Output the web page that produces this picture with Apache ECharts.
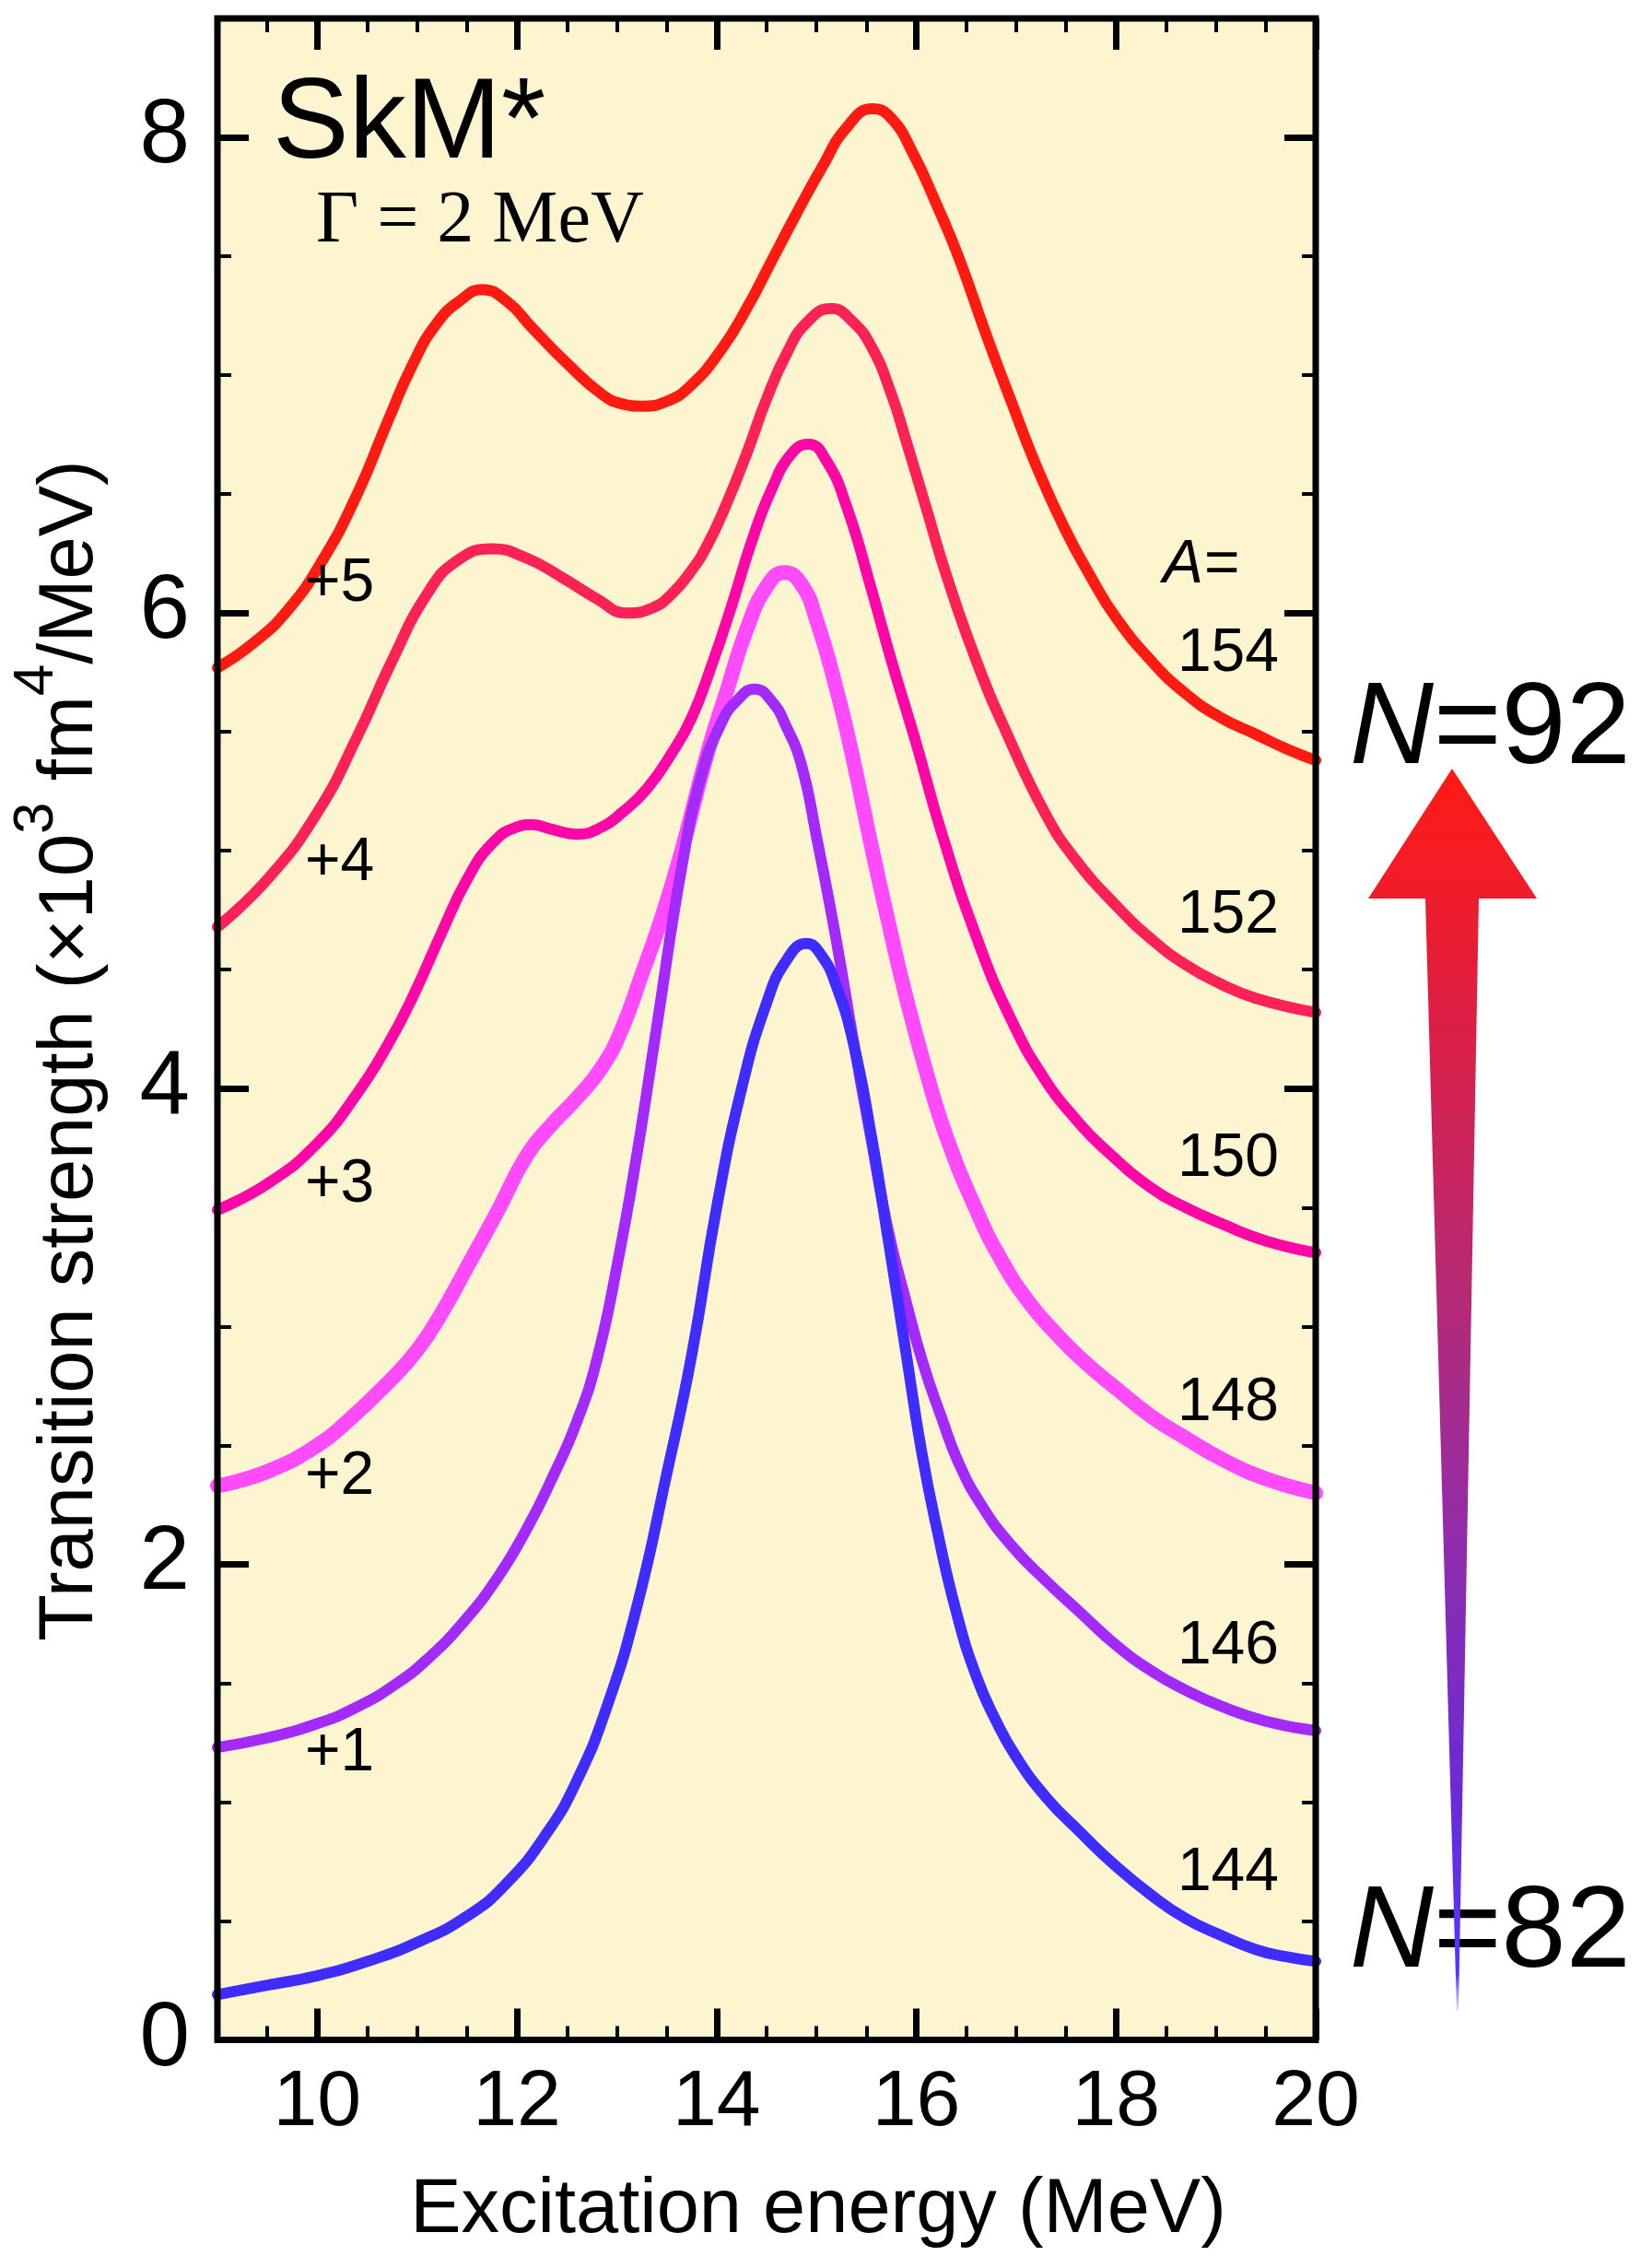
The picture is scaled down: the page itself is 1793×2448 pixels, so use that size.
<!DOCTYPE html>
<html>
<head>
<meta charset="utf-8">
<script src="https://cdn.jsdelivr.net/npm/echarts@6/dist/echarts.min.js"></script>
<style>
  html, body { margin: 0; padding: 0; background: #ffffff; }
  #chart { width: 1793px; height: 2448px; }
</style>
</head>
<body>
<div id="chart"></div>
<script>
// Isotopes shown (mass number A) and the vertical shift applied to each spectrum
const massNumbers = [144, 146, 148, 150, 152, 154];
const offsets = [0, 1, 2, 3, 4, 5];

// Strength functions, [excitation energy (MeV), strength (x10^3 fm^4/MeV)], before shifting
const s144 = [[9.0,0.19],[9.5,0.23],[10.0,0.27],[10.5,0.33],[11.0,0.41],[11.5,0.52],[11.9,0.66],[12.3,0.87],[12.6,1.09],[12.9,1.40],[13.2,1.82],[13.5,2.38],[13.75,2.88],[14.0,3.50],[14.25,4.00],[14.5,4.36],[14.7,4.54],[14.9,4.61],[15.05,4.56],[15.2,4.43],[15.37,4.19],[15.55,3.80],[15.72,3.36],[15.9,2.88],[16.05,2.48],[16.2,2.16],[16.4,1.80],[16.6,1.53],[16.8,1.34],[17.0,1.19],[17.3,1.02],[17.65,0.87],[18.0,0.73],[18.35,0.61],[18.7,0.51],[19.05,0.44],[19.4,0.38],[19.7,0.35],[20.0,0.33]];
const s146 = [[9.0,0.23],[9.5,0.27],[10.0,0.33],[10.4,0.40],[10.8,0.50],[11.1,0.60],[11.45,0.75],[11.8,0.94],[12.1,1.15],[12.35,1.36],[12.6,1.60],[12.8,1.86],[13.0,2.25],[13.2,2.72],[13.4,3.26],[13.65,3.93],[13.85,4.32],[14.05,4.54],[14.2,4.63],[14.38,4.68],[14.55,4.63],[14.7,4.52],[14.85,4.36],[15.0,4.06],[15.2,3.62],[15.37,3.20],[15.55,2.78],[15.72,2.40],[15.9,2.10],[16.07,1.84],[16.25,1.62],[16.42,1.43],[16.65,1.25],[16.95,1.08],[17.3,0.93],[17.66,0.79],[18.0,0.66],[18.36,0.55],[18.7,0.47],[19.07,0.40],[19.5,0.34],[20.0,0.30]];
const s148 = [[9.0,0.33],[9.5,0.39],[10.0,0.50],[10.3,0.60],[10.7,0.76],[11.0,0.90],[11.25,1.06],[11.5,1.25],[11.8,1.48],[12.1,1.72],[12.35,1.85],[12.6,1.96],[12.85,2.09],[13.05,2.25],[13.25,2.48],[13.45,2.72],[13.65,3.00],[13.9,3.40],[14.1,3.67],[14.3,3.93],[14.5,4.11],[14.68,4.17],[14.85,4.12],[15.0,3.97],[15.2,3.68],[15.37,3.38],[15.55,3.02],[15.72,2.70],[15.9,2.38],[16.1,2.07],[16.3,1.80],[16.6,1.49],[16.85,1.28],[17.13,1.10],[17.4,0.97],[17.66,0.86],[18.0,0.74],[18.36,0.62],[18.7,0.53],[19.07,0.44],[19.5,0.36],[20.0,0.30]];
const s150 = [[9.0,0.49],[9.5,0.60],[10.0,0.77],[10.4,0.98],[10.7,1.18],[10.95,1.38],[11.25,1.66],[11.5,1.88],[11.75,2.03],[12.0,2.10],[12.15,2.11],[12.35,2.09],[12.6,2.07],[12.85,2.10],[13.05,2.16],[13.3,2.26],[13.55,2.41],[13.75,2.56],[13.95,2.78],[14.15,3.03],[14.35,3.30],[14.55,3.52],[14.75,3.67],[14.92,3.71],[15.1,3.64],[15.3,3.45],[15.55,3.10],[15.75,2.80],[16.0,2.45],[16.25,2.08],[16.6,1.64],[16.95,1.29],[17.3,1.03],[17.6,0.87],[17.85,0.76],[18.36,0.58],[18.7,0.50],[19.07,0.43],[19.5,0.36],[20.0,0.31]];
const s152 = [[9.0,0.68],[9.5,0.88],[10.0,1.16],[10.4,1.48],[10.75,1.80],[11.1,2.08],[11.4,2.22],[11.75,2.27],[12.1,2.23],[12.45,2.15],[12.8,2.06],[13.1,2.00],[13.35,2.02],[13.55,2.08],[13.75,2.18],[13.9,2.28],[14.1,2.46],[14.3,2.67],[14.5,2.90],[14.7,3.09],[14.9,3.22],[15.15,3.28],[15.35,3.23],[15.55,3.12],[15.75,2.92],[15.9,2.72],[16.1,2.44],[16.3,2.16],[16.6,1.80],[16.9,1.50],[17.3,1.15],[17.6,0.96],[18.0,0.77],[18.35,0.63],[18.7,0.52],[19.05,0.44],[19.4,0.38],[20.0,0.32]];
const s154 = [[9.0,0.77],[9.35,0.87],[9.7,1.01],[10.05,1.22],[10.4,1.50],[10.7,1.80],[10.95,2.04],[11.2,2.22],[11.45,2.32],[11.65,2.36],[11.9,2.31],[12.15,2.20],[12.5,2.05],[12.85,1.92],[13.05,1.88],[13.25,1.87],[13.5,1.89],[13.75,1.96],[14.05,2.11],[14.3,2.28],[14.55,2.48],[14.8,2.68],[15.05,2.87],[15.3,3.04],[15.56,3.12],[15.75,3.08],[15.97,2.93],[16.2,2.72],[16.42,2.50],[16.7,2.17],[16.95,1.89],[17.2,1.62],[17.48,1.36],[17.75,1.15],[18.0,0.98],[18.35,0.80],[18.7,0.66],[19.05,0.56],[19.4,0.49],[19.7,0.43],[20.0,0.38]];

// Axis ranges and labelled ticks
const xRange = [9, 20];
const yRange = [0, 8.5];
const xTickLabels = [10, 12, 14, 16, 18, 20];
const yTickLabels = [0, 2, 4, 6, 8];

const spectra = [s144, s146, s148, s150, s152, s154];
const lineColors = ['#3E2DFE', '#A32AFB', '#FF4BFC', '#FD07A6', '#FC2257', '#FF1B12'];
const lineWidths = [12, 12, 16, 12, 12, 12];

const SANS = "'Liberation Sans', Arial, Helvetica, sans-serif";
const SERIF = "'Liberation Serif', 'Times New Roman', serif";

// minor ticks every 0.5 between the labelled ones
function minorTicks(range, majors) {
  const out = [];
  for (let v = range[0] + 0.5; v < range[1] - 1e-9; v += 0.5) {
    if (!majors.some(m => Math.abs(m - v) < 1e-9)) out.push(v);
  }
  return out;
}
const xMinor = minorTicks(xRange, xTickLabels);
const yMinor = minorTicks(yRange, yTickLabels);

const GRID = { left: 236, top: 20, right: 365, bottom: 234.5 };
const plotW = 1793 - GRID.left - GRID.right;
const plotH = 2448 - GRID.top - GRID.bottom;

function makeAxis(kind, position, ticks, major, withLabels) {
  const range = kind === 'x' ? xRange : yRange;
  const ax = {
    type: 'value',
    gridIndex: 0,
    position: position,
    min: range[0],
    max: range[1],
    axisLine: { show: false, onZero: false },
    splitLine: { show: false },
    axisTick: {
      show: true,
      inside: true,
      customValues: ticks,
      length: major ? 34 : 15,
      lineStyle: { color: '#000', width: major ? 7 : 4 }
    },
    axisLabel: { show: false }
  };
  if (withLabels) {
    ax.axisLabel = {
      show: true,
      customValues: ticks,
      color: '#000',
      fontFamily: SANS,
      fontSize: kind === 'x' ? 86 : 98,
      margin: kind === 'x' ? 26 : 30
    };
  }
  return ax;
}

const series = spectra.map((pts, i) => ({
  name: 'A=' + massNumbers[i],
  type: 'line',
  xAxisIndex: 0,
  yAxisIndex: 0,
  data: pts.map(p => [p[0], p[1] + offsets[i]]),
  smooth: 0.5,
  showSymbol: false,
  symbol: 'none',
  clip: true,
  lineStyle: { color: lineColors[i], width: lineWidths[i], cap: 'round', join: 'round' },
  z: 2 + (massNumbers.length - i)
})).reverse();

const graphics = [];

// plot frame
graphics.push({
  type: 'rect', z: 100, silent: true,
  shape: { x: GRID.left, y: GRID.top, width: plotW, height: plotH },
  style: { fill: 'none', stroke: '#000', lineWidth: 7, lineJoin: 'miter' }
});

function label(text, x, y, size, opts) {
  opts = opts || {};
  graphics.push({
    type: 'text', z: 110, silent: true, x: x, y: y,
    style: {
      text: text,
      fontSize: size,
      fontFamily: opts.family || SANS,
      fontStyle: opts.italic ? 'italic' : 'normal',
      fill: '#000',
      align: opts.align || 'left',
      verticalAlign: 'middle'
    }
  });
}

// model name and smearing width
label('SkM*', 296, 137, 124);
label('\u0393 = 2 MeV', 343, 241, 80, { family: SERIF });

// shift of each spectrum
const shiftBaselines = [1926, 1626, 1309, 960, 657];
offsets.slice(1).forEach((o, k) => label('+' + o, 331, shiftBaselines[k] - 23, 66));

// mass-number tags at the right end of each curve
label('A=', 1262, 614, 66, { italic: true });
const massBaselines = [2056, 1810, 1546, 1281, 1017, 733];
massNumbers.forEach((a, i) => label(String(a), 1388, massBaselines[i] - 23, 66, { align: 'right' }));

// axis titles
label('Excitation energy (MeV)', 888, 2399, 83, { align: 'center' });
graphics.push({
  type: 'text', z: 110, silent: true, x: 64, y: 1140, rotation: Math.PI / 2,
  style: {
    text: '{a|Transition strength (\u00d710}{s|3}{a| fm}{s|4}{a|/MeV)}',
    align: 'center',
    verticalAlign: 'middle',
    fill: '#000',
    rich: {
      a: { fontSize: 83, fontFamily: SANS, fill: '#000', lineHeight: 110, verticalAlign: 'bottom' },
      s: { fontSize: 62, fontFamily: SANS, fill: '#000', lineHeight: 62, verticalAlign: 'top' }
    }
  }
});

// neutron-number arrow
function neutronLabel(value, y) {
  graphics.push({
    type: 'text', z: 110, silent: true, x: 1465, y: y,
    style: {
      text: '{i|N}{r|=' + value + '}', align: 'left', verticalAlign: 'middle',
      rich: {
        i: { fontSize: 126, fontFamily: SANS, fontStyle: 'italic', fill: '#000' },
        r: { fontSize: 126, fontFamily: SANS, fill: '#000' }
      }
    }
  });
}
neutronLabel(92, 793);
neutronLabel(82, 2099);
graphics.push({
  type: 'polygon', z: 120, silent: true,
  shape: { points: [[1576, 834], [1668, 975], [1605, 975], [1583, 2182], [1581, 2182], [1547, 975], [1485, 975]] },
  style: {
    fill: new echarts.graphic.LinearGradient(0, 0, 0, 1, [
      { offset: 0, color: '#FF1A14' },
      { offset: 0.1, color: '#F01C2A' },
      { offset: 0.2, color: '#DC1F44' },
      { offset: 0.42, color: '#B62A74' },
      { offset: 0.65, color: '#8C2CB2' },
      { offset: 0.83, color: '#6A2AD8' },
      { offset: 0.97, color: '#5436FF' },
      { offset: 1, color: 'rgba(90,70,255,0.2)' }
    ])
  }
});

const chart = echarts.init(document.getElementById('chart'), null, { renderer: 'canvas', width: 1793, height: 2448 });
chart.setOption({
  animation: false,
  backgroundColor: '#ffffff',
  grid: {
    left: GRID.left, top: GRID.top, right: GRID.right, bottom: GRID.bottom,
    show: true, backgroundColor: '#FDF4D0', borderWidth: 0,
    containLabel: false, outerBoundsMode: 'none'
  },
  xAxis: [
    makeAxis('x', 'bottom', xTickLabels, true, true),
    makeAxis('x', 'bottom', xMinor, false, false),
    makeAxis('x', 'top', xTickLabels, true, false),
    makeAxis('x', 'top', xMinor, false, false)
  ],
  yAxis: [
    makeAxis('y', 'left', yTickLabels, true, true),
    makeAxis('y', 'left', yMinor, false, false),
    makeAxis('y', 'right', yTickLabels, true, false),
    makeAxis('y', 'right', yMinor, false, false)
  ],
  series: series,
  graphic: { elements: graphics }
});
</script>
</body>
</html>
